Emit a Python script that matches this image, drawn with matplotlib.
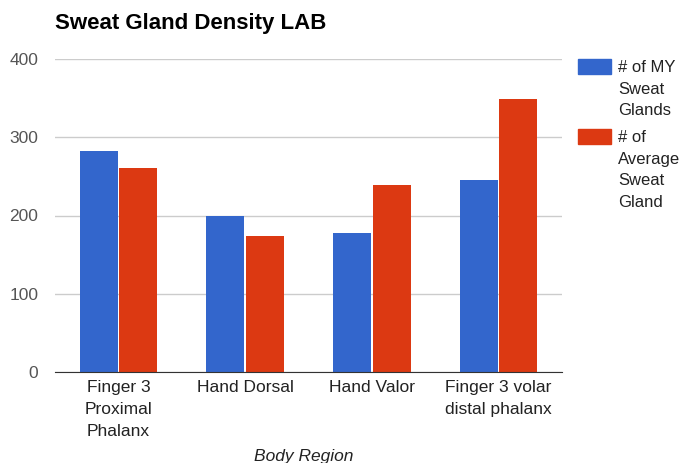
import numpy as np
import matplotlib.pyplot as plt
from matplotlib.patches import Rectangle

CATEGORIES = ["Finger 3\nProximal\nPhalanx", "Hand Dorsal", "Hand Valor",
              "Finger 3 volar\ndistal phalanx"]
MY_GLANDS = [282, 200, 178, 245]
AVG_GLANDS = [261, 174, 239, 349]
SERIES_LABELS = ["# of MY\nSweat\nGlands", "# of\nAverage\nSweat\nGland"]
Y_TICKS = [0, 100, 200, 300, 400]

BLUE = "#3366cc"
RED = "#dc3912"

plt.rcParams['font.family'] = ['Liberation Sans', 'DejaVu Sans']

fig = plt.figure(figsize=(6.79, 4.63), dpi=100)
ax = fig.add_axes([55 / 679, 1 - 372 / 463, 507 / 679, 313 / 463])

x = np.arange(len(CATEGORIES))
w = 0.3
ax.bar(x - w / 2 - 0.006, MY_GLANDS, w, color=BLUE, zorder=3)
ax.bar(x + w / 2 + 0.006, AVG_GLANDS, w, color=RED, zorder=3)

ax.set_xlim(-0.5, len(CATEGORIES) - 0.5)
ax.set_ylim(0, 400)
ax.set_yticks(Y_TICKS)
ax.set_yticklabels([str(t) for t in Y_TICKS], fontsize=12.5, color="#555555")
ax.set_xticks(x)
ax.set_xticklabels(CATEGORIES, fontsize=12.5, color="#222222", linespacing=1.55)
ax.tick_params(axis="both", length=0)
ax.tick_params(axis="y", pad=12)
ax.tick_params(axis="x", pad=6)
ax.grid(axis="y", color="#cccccc", linewidth=1, zorder=0)
for s in ["top", "right", "left"]:
    ax.spines[s].set_visible(False)
ax.spines["bottom"].set_color("#333333")
ax.spines["bottom"].set_zorder(4)

ax.set_xlabel("Body Region", fontsize=12.5, style="italic", color="#222222")
ax.xaxis.label.set_va("center")
ax.xaxis.set_label_coords(0.49, (372 - 456) / 313)

fig.text(55 / 679, 1 - 23 / 463, "Sweat Gland Density LAB", fontsize=16,
         fontweight="bold", color="#000000", va="center", ha="left")

# legend drawn by hand so the swatch lines up with the first text line
legend_tops = [59, 129]
for top, lab, col in zip(legend_tops, SERIES_LABELS, [BLUE, RED]):
    fig.patches.append(Rectangle((578 / 679, 1 - (top + 15) / 463), 33 / 679, 15 / 463,
                                 transform=fig.transFigure, color=col))
    fig.text(618 / 679, 1 - (top + 1) / 463, lab, fontsize=12, color="#222222",
             va="top", ha="left", linespacing=1.55)

fig.savefig("out.png", dpi=100)
